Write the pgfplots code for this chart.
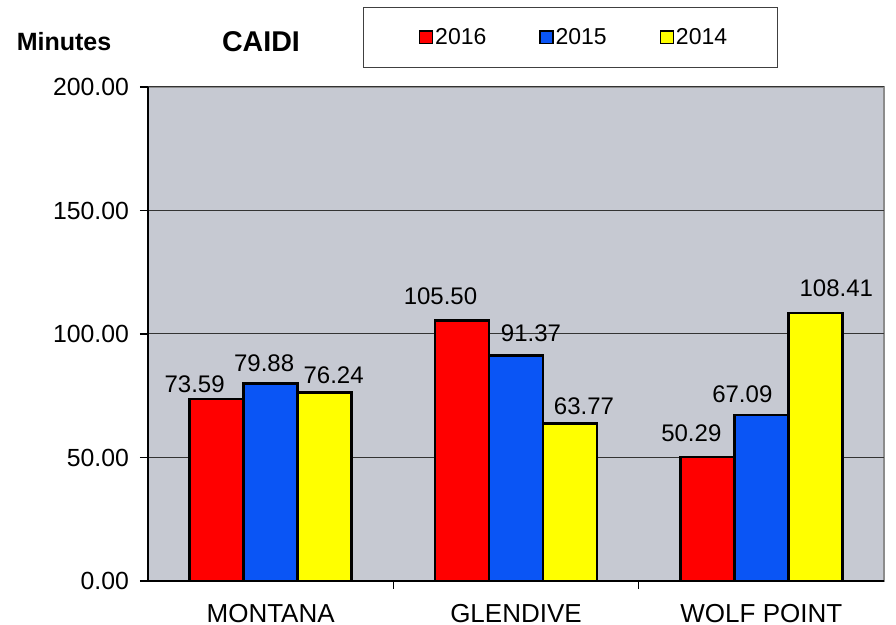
\documentclass[border=0pt]{standalone}
\usepackage{pgfplots}
\usepackage{pgfplotstable}
\pgfplotsset{compat=1.18}
\usepackage{fontspec}
\setmainfont{Liberation Sans}
\definecolor{bg}{RGB}{198,201,210}
\definecolor{cred}{RGB}{255,0,0}
\definecolor{cblue}{RGB}{10,85,245}
\definecolor{cyellow}{RGB}{255,255,0}
\pgfplotstableread{
x y dx dy
0 73.59 -11 7.25
1 105.50 -10.75 12
2 50.29 -8 12
}\tsixteen
\pgfplotstableread{
x y dx dy
0 79.88 -3.25 10.25
1 91.37 7.5 11
2 67.09 -9.5 10.75
}\tfifteen
\pgfplotstableread{
x y dx dy
0 76.24 4.5 8.75
1 63.77 7 8.75
2 108.41 10.5 12.25
}\tfourteen
\begin{document}
\begin{tikzpicture}
\path[use as bounding box] (-74pt,-22pt) rectangle (374pt,290.5pt);
\begin{axis}[
  at={(0pt,0pt)}, anchor=south west,
  scale only axis, width=368pt, height=247pt,
  ybar=0pt, bar width=27pt,
  xmin=-0.5, xmax=2.5, ymin=0, ymax=200,
  xtick={0,1,2}, xticklabels={MONTANA,GLENDIVE,WOLF POINT},
  minor xtick={0.5,1.5},
  ytick={0,50,100,150,200},
  axis x line*=bottom, axis y line*=left,
  x axis line style={-, line width=0.8pt},
  y axis line style={-, line width=0.8pt},
  axis background/.style={fill=bg, draw=black!45, line width=0.6pt},
  tick align=outside,
  major x tick style={draw=none},
  minor x tick style={draw=black, line width=0.6pt},
  major y tick style={draw=black, line width=0.6pt},
  major tick length=4pt, minor tick length=4pt,
  ymajorgrids, major grid style={black!80, line width=0.5pt},
  yticklabel style={font=\fontsize{12.4}{14}\selectfont, xshift=-2pt, /pgf/number format/fixed, /pgf/number format/fixed zerofill, /pgf/number format/precision=2, /pgf/number format/assume math mode=true},
  xticklabel style={font=\fontsize{13}{15}\selectfont, yshift=-4pt},
  visualization depends on={\thisrow{dx} \as \dx},
  visualization depends on={\thisrow{dy} \as \dy},
  nodes near coords,
  nodes near coords style={font=\fontsize{12}{14}\selectfont, text=black, anchor=center,
    xshift=\dx pt, yshift=\dy pt,
    /pgf/number format/fixed, /pgf/number format/fixed zerofill, /pgf/number format/precision=2, /pgf/number format/assume math mode=true},
  legend columns=3,
  legend style={at={(rel axis cs:0.2915,1.161)}, anchor=north west,
    draw=black!75, line width=0.5pt, fill=white,
    font=\fontsize{11.5}{13}\selectfont,
    nodes={inner xsep=0pt},
    inner xsep=28pt, inner ysep=8pt,
    /tikz/column sep=0pt,
    /tikz/every odd column/.append style={column sep=1pt},
    /tikz/every even column/.append style={column sep=26.5pt}},
  legend image code/.code={\draw[#1, line width=0.6pt, draw=black] (0pt,-3.2pt) rectangle (6.5pt,3.2pt);},
  clip=false,
]
\addplot[fill=cred, draw=black, line width=1.2pt] table[x=x,y=y] {\tsixteen};
\addplot[fill=cblue, draw=black, line width=1.2pt] table[x=x,y=y] {\tfifteen};
\addplot[fill=cyellow, draw=black, line width=1.2pt] table[x=x,y=y] {\tfourteen};
\legend{2016,2015,2014\hspace*{-3pt}}
\end{axis}
\node[font=\bfseries\fontsize{12.5}{14}\selectfont] at (-42pt,269.5pt) {Minutes};
\node[font=\bfseries\fontsize{14.3}{16}\selectfont] at (56.5pt,269.5pt) {CAIDI};
\end{tikzpicture}
\end{document}
